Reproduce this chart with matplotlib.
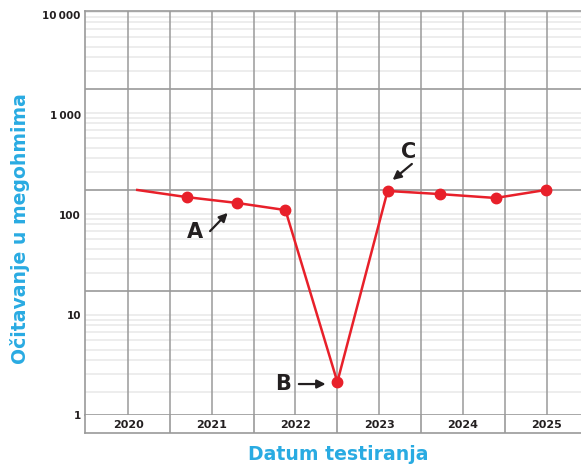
import numpy as np
import matplotlib.pyplot as plt

plt.rcParams['font.family'] = ['DejaVu Sans']

# readings (fractional year, megohms)
dates = [2020.11, 2020.70, 2021.30, 2021.88, 2022.50, 2023.10, 2023.72, 2024.39, 2024.99]
values = [178, 151, 132, 112, 2.14, 174, 162, 148, 178]

years = [2020, 2021, 2022, 2023, 2024, 2025]
ytick_vals = [1, 10, 100, 1000, 10000]
ytick_labels = ['1', '10', '100', '1\u2009000', '10\u2009000']

# annotation letters: (text pos, arrow tail, arrow head)
notes = [
    ('A', (2020.80, 67), (2020.98, 69), (2021.19, 105)),
    ('B', (2021.85, 2.04), (2022.04, 2.04), (2022.36, 2.04)),
    ('C', (2023.35, 430), (2023.39, 324), (2023.16, 224)),
]

red = '#e8202a'
blue = '#29abe2'
dark = '#9a9a9a'
light = '#ececec'
ink = '#231f20'

fig = plt.figure(figsize=(5.81, 4.66), dpi=100)
ax = fig.add_axes([85/581, 51/466, 496/581, 404/466])
band = fig.add_axes([85/581, 33/466, 496/581, 18/466], sharex=ax)

ax.set_yscale('log')
ax.set_ylim(1, 10**4.04)
ax.set_xlim(2019.486, 2025.41)

# log-paper style background grid
offsets = [0.24, 0.29, 0.34, 0.41, 0.49, 0.59, 0.69, 0.83]
for major in [4.27, 3.26, 2.25, 1.24, 0.23]:
    for o in offsets:
        ax.axhline(10**(major - o), color=light, lw=1.3, zorder=0)
    if 0.5 < major < 4:
        ax.axhline(10**major, color=dark, lw=1.2, zorder=1)
    else:
        ax.axhline(10**major, color=light, lw=1.3, zorder=0)
for x in np.arange(2020, 2025.01, 0.5):
    ax.axvline(x, color=dark, lw=1.1, zorder=1)

ax.plot(dates, values, color=red, lw=1.8, zorder=3)
ax.plot(dates[1:], values[1:], 'o', color=red, ms=7.5, zorder=4)

for letter, pos, tail, head in notes:
    ax.text(pos[0], pos[1], letter, fontsize=15, fontweight='bold',
            ha='center', va='center', color=ink, zorder=5)
    ax.annotate('', xy=head, xytext=tail,
                arrowprops=dict(arrowstyle='-|>,head_length=0.5,head_width=0.25',
                                color=ink, lw=1.6, shrinkA=0, shrinkB=0))

ax.set_yticks(ytick_vals)
ax.set_yticklabels(ytick_labels, fontsize=7.5, fontweight='bold', color=ink)
ax.yaxis.set_minor_locator(plt.NullLocator())
ax.tick_params(axis='y', length=0, pad=3)
ax.tick_params(axis='x', length=0, labelbottom=False)
for s in ['left', 'top', 'bottom']:
    ax.spines[s].set_color(dark)
    ax.spines[s].set_linewidth(1.2)
ax.spines['right'].set_visible(False)

# year band under the plot
band.set_ylim(0, 1)
band.set_yticks([])
band.tick_params(axis='x', length=0, labelbottom=False)
for x in np.arange(2020.5, 2025.01, 1.0):
    band.axvline(x, color=dark, lw=1.2)
for y in years:
    band.text(y, 0.45, str(y), ha='center', va='center', fontsize=8,
              fontweight='bold', color=ink)
for s in ['left', 'bottom']:
    band.spines[s].set_color(dark)
    band.spines[s].set_linewidth(1.2)
band.spines['top'].set_visible(False)
band.spines['right'].set_visible(False)

fig.text(338/581, 1 - 455/466, 'Datum testiranja', color=blue, fontsize=13.6,
         fontweight='bold', ha='center', va='center')
fig.text(20/581, 1 - 229/466, 'Očitavanje u megohmima', color=blue, fontsize=13.6,
         fontweight='bold', ha='center', va='center', rotation=90)

fig.savefig('out.png', dpi=100)
